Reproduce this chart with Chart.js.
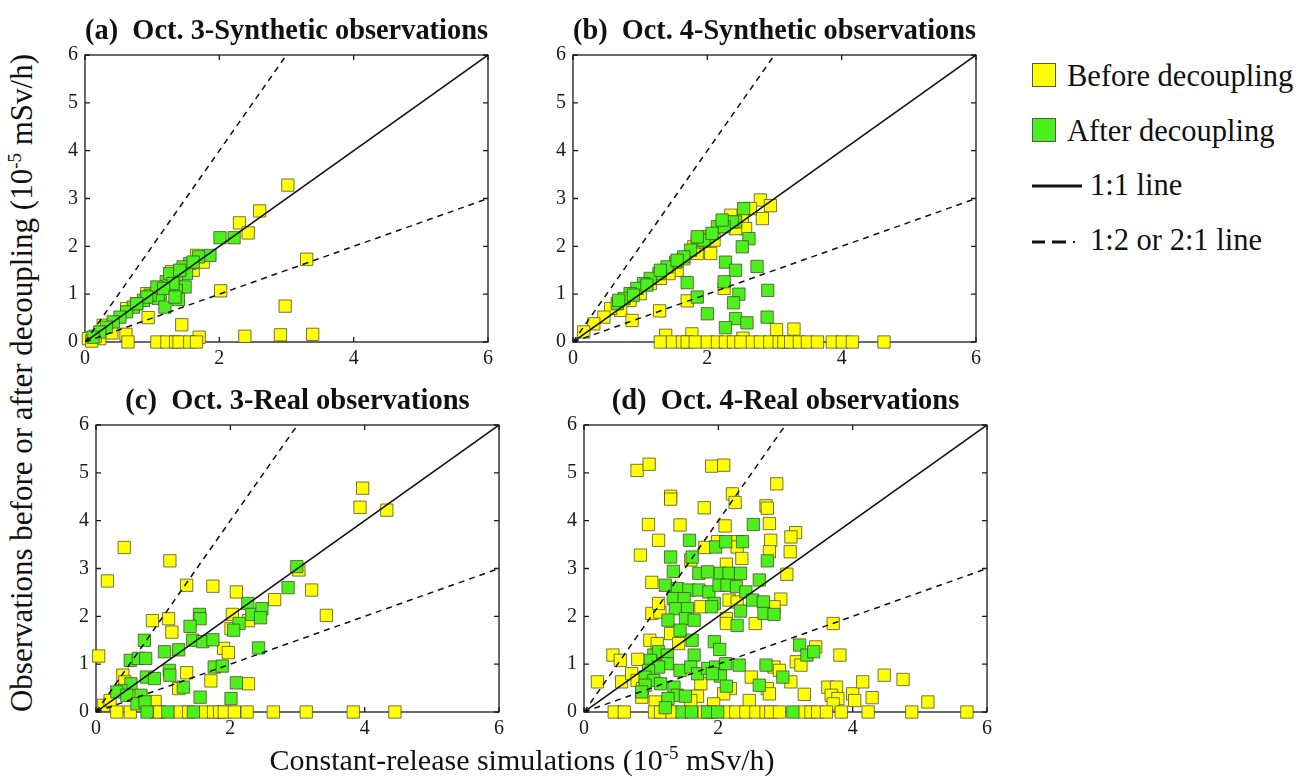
<!DOCTYPE html>
<html>
<head>
<meta charset="utf-8">
<script src="https://cdn.jsdelivr.net/npm/chart.js@4.4.1/dist/chart.umd.min.js"></script>
<style>
  body { margin: 0; background: #fff; }
  #page { position: relative; width: 1300px; height: 778px; overflow: hidden; font-family: "Liberation Serif", "Times New Roman", serif; color: #111; }
  canvas.panel { position: absolute; }
  .axisLabel { position: absolute; font-family: "Liberation Serif", "Times New Roman", serif; font-size: 30px; white-space: nowrap; line-height: 30px; }
  .axisLabel sup { font-size: 19px; vertical-align: 11px; line-height: 0; }
  #yLabel { left: 22px; top: 383px; transform: translate(-50%, -50%) rotate(-90deg); font-size: 31px; }
  #xLabel { left: 522px; top: 760px; transform: translate(-50%, -50%); }
  .legSq { position: absolute; left: 1032px; width: 24px; height: 24px; border: 1px solid #555; box-sizing: border-box; }
  .legTx { position: absolute; font-family: "Liberation Serif", "Times New Roman", serif; font-size: 30.5px; line-height: 30px; white-space: nowrap; }
  .legLine { position: absolute; left: 1032px; }
</style>
</head>
<body>
<div id="page">
  <canvas id="pa" class="panel" width="493" height="380" style="left:40px;top:0px"></canvas>
  <canvas id="pb" class="panel" width="493" height="380" style="left:528px;top:0px"></canvas>
  <canvas id="pc" class="panel" width="493" height="380" style="left:51px;top:370px"></canvas>
  <canvas id="pd" class="panel" width="493" height="380" style="left:539px;top:370px"></canvas>

  <div id="yLabel" class="axisLabel">Observations before or after decoupling (10<sup>-5</sup> mSv/h)</div>
  <div id="xLabel" class="axisLabel">Constant-release simulations (10<sup>-5</sup> mSv/h)</div>

  <div class="legSq" style="top:63px;background:#ffff00"></div>
  <div class="legTx" style="left:1067px;top:61px">Before decoupling</div>
  <div class="legSq" style="top:118px;background:#4cf01c"></div>
  <div class="legTx" style="left:1067px;top:116px">After decoupling</div>
  <svg class="legLine" style="top:176px" width="60" height="20"><line x1="0" y1="10" x2="50" y2="10" stroke="#111" stroke-width="3"/></svg>
  <div class="legTx" style="left:1090px;top:170px">1:1 line</div>
  <svg class="legLine" style="top:232px" width="60" height="20"><line x1="0" y1="10" x2="13" y2="10" stroke="#111" stroke-width="3"/><line x1="20" y1="10" x2="34" y2="10" stroke="#111" stroke-width="3"/><line x1="41" y1="10" x2="43" y2="10" stroke="#111" stroke-width="2"/></svg>
  <div class="legTx" style="left:1090px;top:225px">1:2 or 2:1 line</div>
</div>

<script>
// tick values
const xTicks = [0, 2, 4, 6];
const yTicks = [0, 1, 2, 3, 4, 5, 6];

// reference lines [x, y]
const lineOneToOne = [[0, 0], [6, 6]];
const lineTwoToOne = [[0, 0], [3, 6]];
const lineOneToTwo = [[0, 0], [6, 3]];

const panelTitles = [
  '(a)  Oct. 3-Synthetic observations',
  '(b)  Oct. 4-Synthetic observations',
  '(c)  Oct. 3-Real observations',
  '(d)  Oct. 4-Real observations'
];

// (a) Oct. 3 synthetic
const aBefore = [
  [3.02, 3.28], [2.60, 2.74], [2.30, 2.49], [2.43, 2.28], [2.02, 1.07], [3.30, 1.73], [2.98, 0.75],
  [0.94, 0.51], [1.44, 0.36], [0.61, 0.16], [2.38, 0.12], [2.91, 0.15], [3.39, 0.16], [1.70, 0.10],
  [0.64, 0], [1.07, 0], [1.22, 0], [1.35, 0], [1.40, 0], [1.56, 0], [1.66, 0],
  [0.05, 0.07], [0.22, 0.07], [0.40, 0.19], [0.27, 0.35], [1.29, 1.47], [1.61, 1.50], [1.76, 1.67],
  [1.66, 1.81], [0.77, 0.80], [0.92, 1.01], [0.62, 0.70], [0.10, 0.02], [0.15, 0.12]
];
const aAfter = [
  [2.01, 2.18], [2.22, 2.18], [1.86, 1.81], [1.69, 1.78], [1.56, 1.64], [1.46, 1.57], [1.51, 1.43],
  [1.36, 1.33], [1.49, 1.15], [1.36, 1.08], [1.39, 0.89], [1.21, 1.26], [1.12, 1.01], [1.09, 0.91],
  [1.19, 0.73], [0.97, 0.98], [0.87, 0.87], [0.72, 0.73], [0.62, 0.63], [0.52, 0.52], [0.42, 0.42],
  [0.32, 0.31], [0.22, 0.21], [0.12, 0.10], [1.26, 1.43], [1.31, 1.22], [1.07, 1.15], [0.92, 0.94],
  [0.77, 0.80], [1.61, 1.67], [1.41, 1.50], [1.17, 1.12], [1.34, 0.94]
];

// (b) Oct. 4 synthetic
const bBefore = [
  [2.79, 2.97], [2.94, 2.85], [2.82, 2.58], [2.64, 2.79], [2.52, 2.55], [2.35, 2.65], [2.25, 2.51],
  [2.57, 2.37], [2.42, 2.37], [2.10, 2.13], [2.05, 1.85], [1.85, 1.85], [1.80, 1.99], [1.65, 1.74],
  [1.55, 1.50], [1.43, 1.43], [1.30, 1.33], [1.15, 1.22], [1.00, 1.01], [0.85, 0.87], [0.71, 0.66],
  [0.56, 0.70], [0.46, 0.52], [0.31, 0.38], [0.16, 0.21], [0.88, 0.45], [1.29, 0.65], [1.70, 0.86],
  [2.25, 1.12], [3.03, 0.26], [3.29, 0.27], [1.38, 0.14], [1.77, 0.17], [2.53, 0.08],
  [1.30, 0], [1.48, 0], [1.63, 0], [1.70, 0], [1.82, 0], [2.00, 0], [2.15, 0], [2.27, 0],
  [2.39, 0], [2.50, 0], [2.67, 0], [2.79, 0], [2.93, 0], [3.07, 0], [3.14, 0], [3.24, 0],
  [3.37, 0], [3.49, 0], [3.64, 0], [3.86, 0], [4.01, 0], [4.16, 0], [4.63, 0]
];
const bAfter = [
  [2.54, 2.79], [2.42, 2.51], [2.62, 2.16], [2.52, 1.99], [2.27, 1.67], [2.42, 1.50], [2.74, 1.58],
  [2.25, 1.26], [2.90, 1.08], [2.47, 1.00], [2.39, 0.82], [1.85, 0.94], [1.70, 1.24], [2.00, 0.59],
  [2.42, 0.49], [2.59, 0.40], [2.89, 0.52], [2.27, 0.30], [2.15, 2.41], [2.00, 2.20], [1.85, 2.09],
  [1.75, 1.92], [1.65, 1.78], [1.53, 1.67], [1.40, 1.57], [1.28, 1.43], [1.15, 1.33], [1.05, 1.22],
  [0.95, 1.12], [0.85, 1.01], [0.76, 0.91], [0.66, 0.80], [0.68, 0.87], [2.37, 2.51], [2.25, 2.41],
  [1.95, 2.13], [1.85, 2.20], [1.55, 1.71], [1.30, 1.50], [1.10, 1.19], [0.90, 0.98], [2.22, 2.55],
  [2.07, 2.27]
];

// (c) Oct. 3 real
const cBefore = [
  [3.97, 4.68], [3.93, 4.28], [4.33, 4.22], [0.42, 3.44], [1.10, 3.16], [0.17, 2.74], [1.35, 2.65],
  [1.74, 2.63], [2.09, 2.51], [3.02, 2.97], [3.21, 2.55], [2.66, 2.35], [3.43, 2.02], [2.03, 2.04],
  [2.27, 1.91], [2.01, 1.74], [0.84, 1.91], [1.08, 1.95], [1.13, 1.67], [1.90, 1.33], [1.97, 1.24],
  [0.04, 1.17], [0.40, 0.77], [1.35, 0.82], [1.71, 0.65], [2.27, 0.59], [1.23, 0.49], [0.11, 0.14],
  [0.21, 0.24], [0.88, 0.22], [0.53, 0.35], [0.43, 0.63],
  [0.31, 0], [0.51, 0], [0.90, 0], [0.95, 0], [1.25, 0], [1.38, 0], [1.63, 0], [1.75, 0],
  [1.84, 0], [1.91, 0], [2.06, 0], [2.25, 0], [2.64, 0], [3.13, 0], [3.83, 0], [4.45, 0]
];
const cAfter = [
  [2.99, 3.04], [2.86, 2.60], [2.26, 2.27], [2.32, 2.04], [2.47, 2.16], [2.45, 1.97], [1.54, 2.04],
  [1.55, 1.95], [1.40, 1.79], [2.13, 1.85], [2.05, 1.71], [2.42, 1.34], [0.72, 1.50], [1.44, 1.50],
  [1.59, 1.47], [1.74, 1.51], [0.51, 1.08], [0.63, 1.12], [0.74, 1.12], [1.02, 1.26], [1.23, 1.30],
  [1.76, 0.94], [1.88, 0.96], [1.09, 0.87], [1.10, 0.77], [0.75, 0.73], [0.87, 0.70], [0.52, 0.59],
  [0.37, 0.45], [0.31, 0.42], [0.46, 0.35], [0.67, 0.35], [1.30, 0.52], [2.09, 0.61], [1.55, 0.31],
  [2.01, 0.28], [0.61, 0.17], [0.73, 0.21], [0.76, 0], [1.07, 0], [1.45, 0]
];

// (d) Oct. 4 real
const dBefore = [
  [0.79, 5.05], [0.97, 5.18], [1.90, 5.14], [2.08, 5.16], [2.87, 4.77], [1.29, 4.51], [1.29, 4.45],
  [2.21, 4.56], [2.25, 4.38], [2.71, 4.31], [2.73, 4.26], [1.79, 4.27], [0.96, 3.92], [1.43, 3.91],
  [2.10, 3.89], [2.76, 3.94], [1.11, 3.59], [3.15, 3.75], [3.08, 3.66], [2.78, 3.59], [0.84, 3.28],
  [1.80, 3.44], [1.99, 3.56], [2.28, 3.56], [2.28, 3.45], [2.35, 3.21], [2.76, 3.35], [3.07, 3.35],
  [1.59, 3.18], [2.12, 3.09], [3.02, 2.88], [1.01, 2.71], [2.93, 2.36], [2.83, 2.20], [2.16, 2.34],
  [2.28, 2.30], [1.01, 2.06], [1.13, 2.09], [1.11, 2.27], [1.74, 2.20], [2.12, 1.95], [2.12, 1.85],
  [2.55, 1.85], [3.71, 1.85], [1.29, 1.64], [0.98, 1.50], [1.09, 1.43], [1.41, 1.43], [3.81, 1.19],
  [3.45, 1.36], [0.43, 1.19], [0.54, 1.08], [0.80, 1.10], [3.16, 1.05], [3.23, 0.98], [2.83, 0.94],
  [2.91, 0.87], [0.20, 0.63], [0.56, 0.63], [0.71, 0.80], [0.79, 0.66], [0.86, 0.31], [0.87, 0.49],
  [1.74, 0.59], [2.18, 0.49], [2.08, 0.38], [2.49, 0.73], [2.73, 0.49], [2.76, 0.38], [3.08, 0.63],
  [3.28, 0.37], [3.63, 0.52], [3.76, 0.52], [3.68, 0.35], [3.78, 0.28], [3.71, 0.17], [4.00, 0.38],
  [4.03, 0.24], [4.29, 0.30], [4.15, 0.63], [4.47, 0.77], [4.75, 0.68], [5.12, 0.21], [2.46, 0.24],
  [1.69, 0.33], [1.93, 0.17], [1.06, 0.21], [1.59, 0.24],
  [0.45, 0], [0.60, 0], [1.05, 0], [1.14, 0], [1.31, 0], [1.79, 0], [1.91, 0], [2.13, 0],
  [2.26, 0], [2.41, 0], [2.56, 0], [2.71, 0], [2.78, 0], [2.91, 0], [3.28, 0], [3.38, 0],
  [3.48, 0], [3.61, 0], [3.83, 0], [4.23, 0], [4.88, 0], [5.70, 0]
];
const dAfter = [
  [2.52, 3.92], [1.57, 3.59], [1.96, 3.45], [2.11, 3.56], [2.36, 3.56], [1.29, 3.24], [1.61, 3.24],
  [2.73, 3.16], [1.33, 2.94], [1.71, 2.90], [1.84, 2.93], [2.03, 2.90], [2.16, 2.90], [2.33, 2.90],
  [1.21, 2.65], [1.39, 2.58], [1.56, 2.55], [1.71, 2.55], [1.86, 2.51], [2.01, 2.65], [2.13, 2.65],
  [2.27, 2.62], [2.41, 2.51], [2.61, 2.76], [2.51, 2.34], [2.67, 2.30], [1.33, 2.37], [1.49, 2.37],
  [1.94, 2.27], [1.36, 2.16], [1.54, 2.16], [1.90, 2.20], [2.33, 2.11], [2.68, 2.06], [2.83, 2.04],
  [1.25, 1.92], [1.51, 1.95], [1.64, 1.92], [2.28, 1.81], [1.43, 1.71], [1.61, 1.50], [1.94, 1.47],
  [2.02, 1.31], [3.21, 1.40], [3.32, 1.19], [3.42, 1.26], [1.64, 1.19], [1.04, 1.19], [1.11, 1.26],
  [1.24, 1.19], [0.99, 1.08], [1.24, 1.01], [1.11, 0.94], [0.96, 0.87], [0.91, 0.73], [1.04, 0.66],
  [0.91, 0.56], [0.86, 0.42], [1.14, 0.59], [1.34, 0.52], [1.43, 0.87], [1.59, 0.94], [1.69, 0.80],
  [1.84, 0.91], [1.96, 0.94], [2.11, 1.01], [2.31, 0.98], [2.71, 0.98], [2.03, 0.75], [1.91, 0.80],
  [2.96, 0.73], [2.12, 0.54], [2.61, 0.56], [1.39, 0.35], [1.51, 0.33], [1.25, 0.28], [1.21, 0.09],
  [1.46, 0], [1.60, 0], [1.84, 0], [1.99, 0], [3.11, 0]
];

const serif = '"Liberation Serif", "Times New Roman", serif';
const toXY = pts => pts.map(p => ({ x: p[0], y: p[1] }));

// box with inward ticks, drawn under the markers
const boxTicks = {
    id: 'boxTicks',
    beforeDatasetsDraw(chart) {
        const { ctx, chartArea: a, scales } = chart;
        ctx.save();
        ctx.strokeStyle = '#1a1a1a';
        ctx.lineWidth = 1.3;
        ctx.strokeRect(a.left, a.top, a.right - a.left, a.bottom - a.top);
        ctx.beginPath();
        scales.x.ticks.forEach(t => {
            const px = scales.x.getPixelForValue(t.value);
            ctx.moveTo(px, a.bottom); ctx.lineTo(px, a.bottom - 5);
            ctx.moveTo(px, a.top); ctx.lineTo(px, a.top + 5);
        });
        scales.y.ticks.forEach(t => {
            const py = scales.y.getPixelForValue(t.value);
            ctx.moveTo(a.left, py); ctx.lineTo(a.left + 5, py);
            ctx.moveTo(a.right, py); ctx.lineTo(a.right - 5, py);
        });
        ctx.stroke();
        ctx.restore();
    }
};

function refLine(pts, dashed) {
    return {
        type: 'line',
        data: toXY(pts),
        borderColor: '#111',
        borderWidth: 1.5,
        borderDash: dashed ? [6, 5] : [],
        pointRadius: 0,
        fill: false,
        order: 0
    };
}

function markers(pts, fill, order) {
    return {
        type: 'scatter',
        data: toXY(pts),
        pointStyle: 'rect',
        pointRadius: 8.7,
        pointHoverRadius: 8.7,
        backgroundColor: fill,
        borderColor: 'rgba(70, 70, 40, 0.75)',
        borderWidth: 1,
        clip: false,
        order: order
    };
}

function makePanel(id, title, before, after) {
    const ctx = document.getElementById(id).getContext('2d');
    return new Chart(ctx, {
        type: 'scatter',
        data: {
            datasets: [
                markers(before, '#ffff00', 2),
                markers(after, '#4cf01c', 1),
                refLine(lineOneToOne, false),
                refLine(lineTwoToOne, true),
                refLine(lineOneToTwo, true)
            ]
        },
        options: {
            responsive: false,
            animation: false,
            events: [],
            layout: { padding: { left: 0, right: 45, top: 0, bottom: 0 } },
            scales: {
                x: {
                    type: 'linear',
                    min: 0,
                    max: 6,
                    afterFit: s => { s.height = 38; },
                    afterBuildTicks: s => { s.ticks = xTicks.map(v => ({ value: v })); },
                    grid: { display: false, drawTicks: false },
                    border: { display: false },
                    ticks: { padding: 5, color: '#1a1a1a', font: { family: serif, size: 20 } }
                },
                y: {
                    type: 'linear',
                    min: 0,
                    max: 6,
                    afterFit: s => { s.width = 45; },
                    afterBuildTicks: s => { s.ticks = yTicks.map(v => ({ value: v })); },
                    grid: { display: false, drawTicks: false },
                    border: { display: false },
                    ticks: { padding: 7, color: '#1a1a1a', font: { family: serif, size: 20 } }
                }
            },
            plugins: {
                legend: { display: false },
                tooltip: { enabled: false },
                title: {
                    display: true,
                    text: title,
                    fullSize: false,
                    color: '#111',
                    font: { family: serif, size: 28.5, weight: 'bold', lineHeight: 1 },
                    padding: { top: 17, bottom: 9.5 }
                }
            }
        },
        plugins: [boxTicks]
    });
}

makePanel('pa', panelTitles[0], aBefore, aAfter);
makePanel('pb', panelTitles[1], bBefore, bAfter);
makePanel('pc', panelTitles[2], cBefore, cAfter);
makePanel('pd', panelTitles[3], dBefore, dAfter);
</script>
</body>
</html>
